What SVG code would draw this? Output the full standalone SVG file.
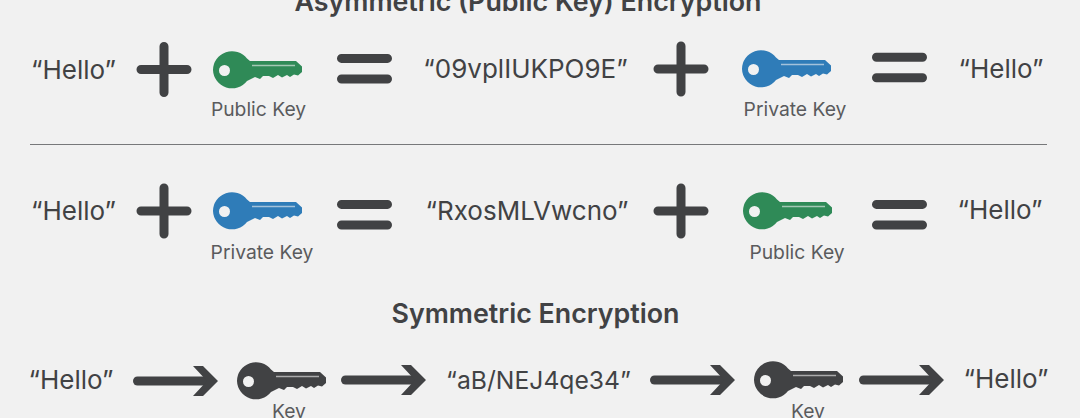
<svg xmlns="http://www.w3.org/2000/svg" width="1080" height="418" viewBox="0 0 1080 418">
<style>
text{font-family:Inter,"Liberation Sans",sans-serif;fill:#414244;text-anchor:middle}
.m{font-size:26px}
.l{font-size:19.300px;fill:#5a5b5d}
.h{font-size:26.800px;font-weight:600}
.op{stroke:#414244;stroke-width:9;stroke-linecap:round;fill:none}
.arr{stroke:#414244;stroke-width:9;stroke-linecap:round;fill:none}
</style>
<defs>
<g id="key">
<path d="M-19 0A19 19 0 0 1 15 -11.500L18 -9L64 -9L70 -3.500L70 2L66 5.500L62 4.500L58 7L55 5L50 7.500L46 5L41 8L37 6L31 6L28 9L23 7L15 11A19 19 0 0 1 -19 0Z"/>
<circle cx="-7.500" cy="0.500" r="5.500" fill="#f1f1f1"/>
<path d="M20 -4.500H63" stroke="#f1f1f1" stroke-width="1.600" fill="none" opacity="0.600"/>
</g>
<g id="plus"><path class="op" d="M-23 0H23M0 -23V23"/></g>
<g id="eq"><path class="op" d="M-23 -10.300H23M-23 10.300H23"/></g>
<g id="arrow"><path class="arr" d="M-42.500 0H28"/><path d="M13 -15H23L38 0L23 15H13L27 0Z" fill="#414244" stroke="none"/></g>
</defs>
<rect width="1080" height="418" fill="#f1f1f1"/>
<text class="h" x="528" y="11">Asymmetric (Public Key) Encryption</text>
<g id="row1">
<text class="m" x="73.500" y="79">“Hello”</text>
<use href="#plus" x="164" y="69.500"/>
<g id="public-key-1" fill="#2f8a57"><use href="#key" x="232" y="70"/><text class="l" x="258.500" y="116">Public Key</text></g>
<use href="#eq" x="364.500" y="68.700"/>
<text class="m" x="525.500" y="78">“09vplIUKPO9E”</text>
<use href="#plus" x="681" y="69"/>
<g id="private-key-1" fill="#2f7cb8"><use href="#key" x="761" y="69"/><text class="l" x="795" y="116">Private Key</text></g>
<use href="#eq" x="899.500" y="67.500"/>
<text class="m" x="1001" y="78">“Hello”</text>
</g>
<path id="divider" d="M30 144.500H1047" stroke="#77787a" stroke-width="1" fill="none"/>
<g id="row2">
<text class="m" x="73.500" y="220">“Hello”</text>
<use href="#plus" x="164" y="211"/>
<g id="private-key-2" fill="#2f7cb8"><use href="#key" x="232" y="211"/><text class="l" x="262" y="259">Private Key</text></g>
<use href="#eq" x="364.500" y="214.700"/>
<text class="m" x="527" y="220">“RxosMLVwcno”</text>
<use href="#plus" x="681" y="211"/>
<g id="public-key-2" fill="#2f8a57"><use href="#key" x="762" y="211"/><text class="l" x="797" y="259">Public Key</text></g>
<use href="#eq" x="899.500" y="214.700"/>
<text class="m" x="1000" y="219">“Hello”</text>
</g>
<text class="h" x="535.500" y="323">Symmetric Encryption</text>
<g id="row3">
<text class="m" x="71" y="389">“Hello”</text>
<g id="connectors">
<use href="#arrow" x="180" y="381"/>
<use href="#arrow" x="388" y="380"/>
<use href="#arrow" x="697" y="380"/>
<use href="#arrow" x="906" y="380"/>
</g>
<g id="key-1" fill="#414244"><use href="#key" x="256" y="381"/><text class="l" x="289" y="418">Key</text></g>
<text class="m" x="538.500" y="389" style="font-size:24.700px">“aB/NEJ4qe34”</text>
<g id="key-2" fill="#414244"><use href="#key" x="773" y="380"/><text class="l" x="808" y="418">Key</text></g>
<text class="m" x="1006" y="388">“Hello”</text>
</g>
</svg>
